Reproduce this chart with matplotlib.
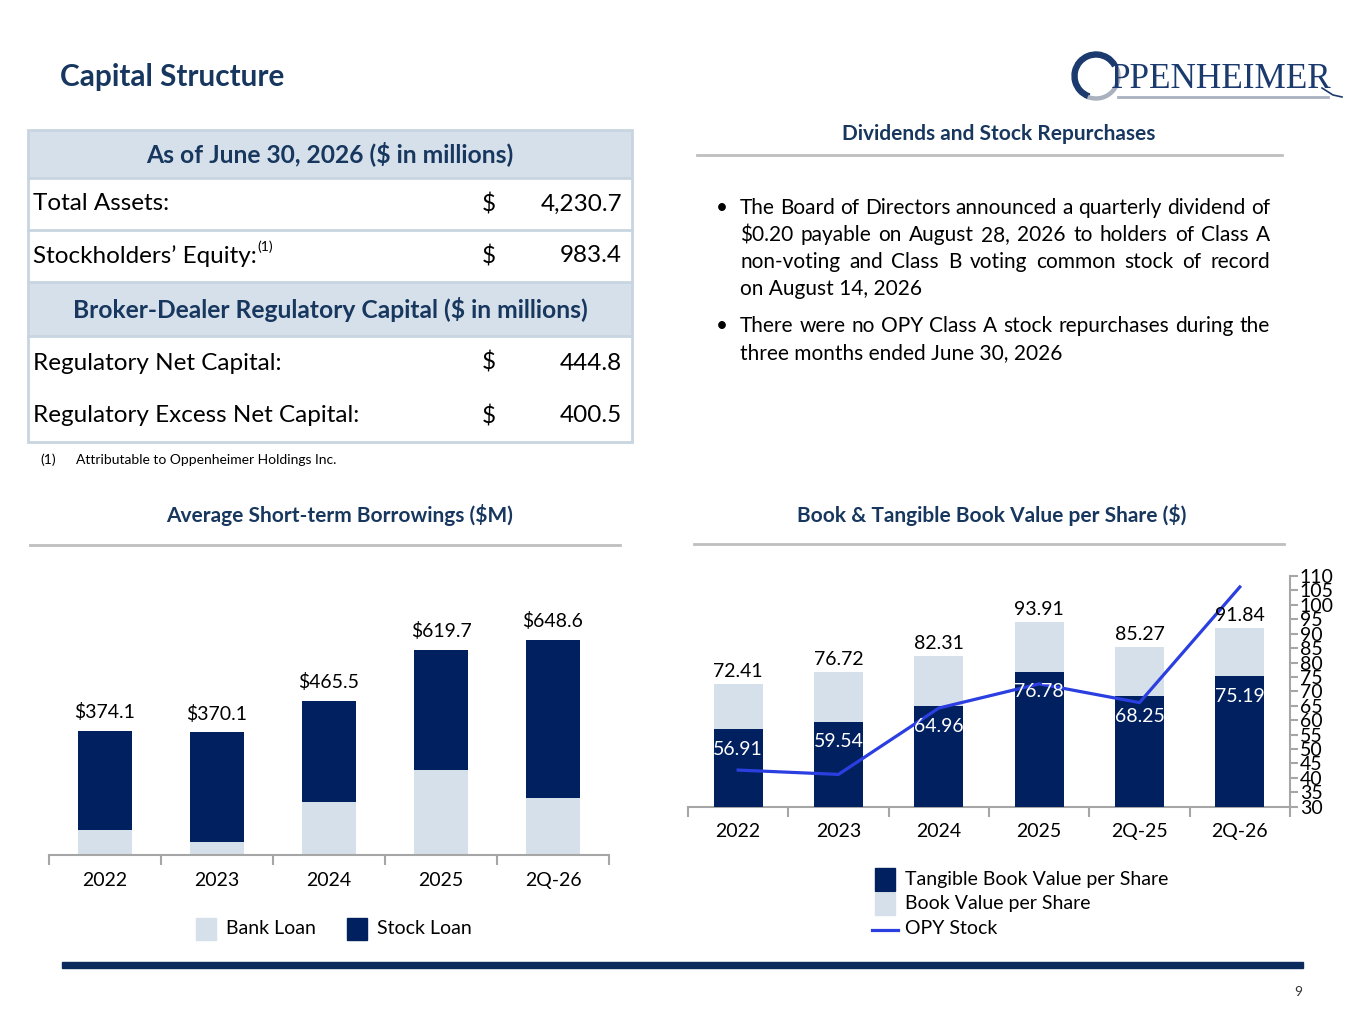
import matplotlib
matplotlib.use('Agg')
import matplotlib.pyplot as plt
import matplotlib.patches as mpatches
import numpy as np

plt.rcParams['font.family'] = ['Lato', 'DejaVu Sans']

W, H = 1365, 1024
NAVY = '#002060'
LIGHT = '#D6E0EA'
TITLE = '#17375E'
LINE_BLUE = '#2B3FE0'
AXGRAY = '#A6A6A6'

# ---------------- data ----------------
borrow_cats = ['2022', '2023', '2024', '2025', '2Q-26']
borrow_total = [374.1, 370.1, 465.5, 619.7, 648.6]
bank_loan = [74.5, 39.0, 159.0, 257.0, 172.0]

bv_cats = ['2022', '2023', '2024', '2025', '2Q-25', '2Q-26']
book_value = [72.41, 76.72, 82.31, 93.91, 85.27, 91.84]
tangible_bv = [56.91, 59.54, 64.96, 76.78, 68.25, 75.19]
opy_stock = [42.7, 41.2, 64.2, 72.6, 66.1, 106.2]
bv_yticks = list(range(30, 111, 5))

table_rows = [
    ('head', 'As of June 30, 2026 ($ in millions)', None),
    ('row', 'Total Assets:', '4,230.7'),
    ('row', 'Stockholders\u2019 Equity:', '983.4'),
    ('head', 'Broker-Dealer Regulatory Capital ($ in millions)', None),
    ('row', 'Regulatory Net Capital:', '444.8'),
    ('row', 'Regulatory Excess Net Capital:', '400.5'),
]

bullets = [
    ['The Board of Directors announced a quarterly dividend of',
     '$0.20 payable on August 28, 2026 to holders of Class A',
     'non-voting and Class B voting common stock of record',
     'on August 14, 2026'],
    ['There were no OPY Class A  stock repurchases during the',
     'three months ended June 30, 2026'],
]

# ---------------- figure ----------------
fig = plt.figure(figsize=(W / 100, H / 100), dpi=100)
bg = fig.add_axes([0, 0, 1, 1])
bg.set_xlim(0, W)
bg.set_ylim(H, 0)
bg.axis('off')
renderer = fig.canvas.get_renderer()


def fa(x0, y0, x1, y1):
    return [x0 / W, 1 - y1 / H, (x1 - x0) / W, (y1 - y0) / H]


def twidth(t):
    return t.get_window_extent(renderer).width


# Title
bg.text(60, 77, 'Capital Structure', fontsize=21.4, fontweight='bold', color=TITLE,
        va='center', ha='left')

# Logo
bg.add_patch(mpatches.Wedge((1096, 76), 24, 110, 330, width=5, color='#1B3A6E'))
bg.add_patch(mpatches.Wedge((1096, 76), 24, -20, 110, width=3, color='#A9B0BE'))
bg.text(1111, 88, 'PPENHEIMER', fontsize=25.4, family='Liberation Serif', color='#1B3A6E',
        va='baseline', ha='left')
bg.plot([1118, 1328], [97, 97], color='#A9B0BE', lw=2)
bg.plot([1322, 1333, 1342], [88, 95, 97], color='#1B3A6E', lw=1.2)

# Table
tx0, tx1 = 28, 632
row_edges = [130, 178, 230, 282, 336, 390, 442]
BORDER = '#C8D5E0'
for i, (kind, label, val) in enumerate(table_rows):
    y0, y1 = row_edges[i], row_edges[i + 1]
    yc = (y0 + y1) / 2
    if kind == 'head':
        bg.add_patch(mpatches.Rectangle((tx0, y0), tx1 - tx0, y1 - y0, facecolor=LIGHT,
                                        edgecolor='none'))
        bg.text((tx0 + tx1) / 2, yc, label, fontsize=17.7, fontweight='bold', color=TITLE,
                ha='center', va='center')
    else:
        t = bg.text(33, yc, label, fontsize=17.5, color='black', ha='left', va='center')
        if label.startswith('Stockholders'):
            wdt = twidth(t)
            bg.text(33 + wdt + 1, yc - 9, '(1)', fontsize=10, ha='left', va='center')
        bg.text(489, yc, '$', fontsize=17.5, ha='center', va='center')
        bg.text(622, yc, val, fontsize=17.5, ha='right', va='center')
bg.add_patch(mpatches.Rectangle((tx0, 130), tx1 - tx0, 442 - 130, facecolor='none',
                                edgecolor=BORDER, lw=2))
for yy in [178, 230, 282, 336]:
    bg.plot([tx0, tx1], [yy, yy], color=BORDER, lw=2)

bg.text(40, 460, '(1)', fontsize=10, ha='left', va='center')
bg.text(76, 460, 'Attributable to Oppenheimer Holdings Inc.', fontsize=10, ha='left', va='center')

# Section headings
def heading(xc, y, text, lx0, lx1, ly):
    bg.text(xc, y, text, fontsize=15, fontweight='bold', color=TITLE, ha='center', va='center')
    bg.plot([lx0, lx1], [ly, ly], color='#BFBFBF', lw=2)

heading(999, 134, 'Dividends and Stock Repurchases', 697, 1282, 155)
heading(340, 515, 'Average Short-term Borrowings ($M)', 30, 620, 545)
heading(992, 515, 'Book & Tangible Book Value per Share ($)', 694, 1284, 544)

# Bullets (justified)
BX, BR = 740, 1270
FS_B = 15
y = 208
for bl in bullets:
    bg.text(722, y, '\u2022', fontsize=FS_B, ha='center', va='center')
    for j, line in enumerate(bl):
        last = j == len(bl) - 1
        if last:
            bg.text(BX, y, line, fontsize=FS_B, ha='left', va='center')
        else:
            words = line.split()
            ts = [bg.text(0, y, w_, fontsize=FS_B, ha='left', va='center') for w_ in words]
            ws = [twidth(t) for t in ts]
            gap = (BR - BX - sum(ws)) / (len(words) - 1)
            xx = BX
            for t, w_ in zip(ts, ws):
                t.set_x(xx)
                xx += w_ + gap
        y += 27
    y += 10

# ---------------- Left chart: borrowings ----------------
ax1 = fig.add_axes(fa(49, 560, 609, 855))
x1 = np.arange(len(borrow_cats))
stock_loan = [t - b for t, b in zip(borrow_total, bank_loan)]
ax1.bar(x1, bank_loan, width=0.48, color=LIGHT)
ax1.bar(x1, stock_loan, bottom=bank_loan, width=0.48, color=NAVY)
for i, t in enumerate(borrow_total):
    ax1.annotate(f'${t:.1f}', (i, t), xytext=(0, 7), textcoords='offset points',
                 ha='center', va='bottom', fontsize=14)
ax1.set_xlim(-0.5, len(borrow_cats) - 0.5)
ax1.set_ylim(0, 890)
for s in ['top', 'left', 'right']:
    ax1.spines[s].set_visible(False)
ax1.spines['bottom'].set_color(AXGRAY)
ax1.spines['bottom'].set_linewidth(1.5)
ax1.set_yticks([])
ax1.set_xticks(x1)
ax1.set_xticklabels(borrow_cats, fontsize=14)
ax1.set_xticks(np.arange(-0.5, len(borrow_cats)), minor=True)
ax1.tick_params(axis='x', which='major', length=0, pad=12)
ax1.tick_params(axis='x', which='minor', length=7, width=1.5, color=AXGRAY, direction='out')
ax1.patch.set_alpha(0)

# legend (left)
bg.add_patch(mpatches.Rectangle((196, 918), 20, 22, color=LIGHT))
bg.text(226, 929, 'Bank Loan', fontsize=14, ha='left', va='center')
bg.add_patch(mpatches.Rectangle((347, 918), 20, 22, color=NAVY))
bg.text(377, 929, 'Stock Loan', fontsize=14, ha='left', va='center')

# ---------------- Right chart: book value ----------------
ax2 = fig.add_axes(fa(688, 576, 1290, 806.7))
x2 = np.arange(len(bv_cats))
ax2.bar(x2, book_value, width=0.49, color=LIGHT, zorder=2)
ax2.bar(x2, tangible_bv, width=0.49, color=NAVY, zorder=3)
ax2.plot(x2, opy_stock, color=LINE_BLUE, lw=2.3, zorder=4)
for i, (b, t) in enumerate(zip(book_value, tangible_bv)):
    ax2.annotate(f'{b:.2f}', (i, b), xytext=(0, 3), textcoords='offset points',
                 ha='center', va='bottom', fontsize=14, zorder=6, annotation_clip=False)
    ax2.annotate(f'{t:.2f}', (i, t), xytext=(0, -14.5), textcoords='offset points',
                 ha='center', va='center', fontsize=14, color='white', zorder=6)
ax2.set_xlim(-0.5, len(bv_cats) - 0.5)
ax2.set_ylim(30, 110)
for s in ['top', 'left']:
    ax2.spines[s].set_visible(False)
for s in ['bottom', 'right']:
    ax2.spines[s].set_color(AXGRAY)
    ax2.spines[s].set_linewidth(1.5)
ax2.yaxis.tick_right()
ax2.set_yticks(bv_yticks)
ax2.set_yticklabels([str(v) for v in bv_yticks], fontsize=14)
ax2.tick_params(axis='y', length=6, width=1.5, color=AXGRAY, direction='out', pad=1)
ax2.set_xticks(x2)
ax2.set_xticklabels(bv_cats, fontsize=14)
ax2.set_xticks(np.arange(-0.5, len(bv_cats)), minor=True)
ax2.tick_params(axis='x', which='major', length=0, pad=12)
ax2.tick_params(axis='x', which='minor', length=7, width=1.5, color=AXGRAY, direction='out')
ax2.patch.set_alpha(0)

# legend (right)
bg.add_patch(mpatches.Rectangle((875, 868), 20, 23, color=NAVY))
bg.text(905, 880, 'Tangible Book Value per Share', fontsize=14, ha='left', va='center')
bg.add_patch(mpatches.Rectangle((875, 893), 20, 22, color=LIGHT))
bg.text(905, 904, 'Book Value per Share', fontsize=14, ha='left', va='center')
bg.plot([872, 898], [930, 930], color=LINE_BLUE, lw=2.3)
bg.text(905, 929, 'OPY Stock', fontsize=14, ha='left', va='center')

# Footer
bg.add_patch(mpatches.Rectangle((62, 962), 1303 - 62, 6, color='#0B2A5E'))
bg.text(1298, 992, '9', fontsize=10, ha='center', va='center', color='#333333')

fig.savefig('out.png', dpi=100)
